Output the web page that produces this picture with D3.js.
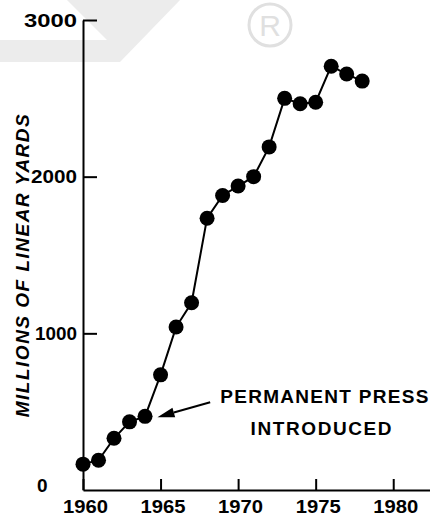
<!DOCTYPE html>
<html>
<head>
<meta charset="utf-8">
<script src="https://cdn.jsdelivr.net/npm/d3@7"></script>
<style>
  html, body { margin: 0; padding: 0; background: #fff; }
  svg { display: block; }
</style>
</head>
<body>
<svg id="chart" width="430" height="516"></svg>
<script>
// ---- data ----
const years = [1960, 1961, 1962, 1963, 1964, 1965, 1966, 1967, 1968, 1969,
               1970, 1971, 1972, 1973, 1974, 1975, 1976, 1977, 1978];
const yards = [165, 190, 330, 435, 470, 735, 1040, 1195, 1735, 1880,
               1940, 2000, 2190, 2500, 2465, 2475, 2705, 2655, 2610];
const xTickValues = [1960, 1965, 1970, 1975, 1980];
const yTickValues = [0, 1000, 2000, 3000];
const yTitle = "MILLIONS OF LINEAR YARDS";
const noteLines = ["PERMANENT PRESS", "INTRODUCED"];

const svg = d3.select("#chart");

// faint watermark at top
svg.append("polygon")
  .attr("points", "67,0 180,0 120,62 0,62 0,40 107,40")
  .attr("fill", "#ececec");
svg.append("circle").attr("cx", 270).attr("cy", 25).attr("r", 21)
  .attr("fill", "none").attr("stroke", "#e0e0e0").attr("stroke-width", 3);
svg.append("text").attr("x", 270).attr("y", 36).attr("text-anchor", "middle")
  .attr("font-family", "Liberation Sans, Arial, sans-serif").attr("font-size", 30)
  .attr("fill", "#e0e0e0").text("R");

const x = d3.scaleLinear().domain([1960, 1982.5]).range([83, 432]);
const y = d3.scaleLinear().domain([0, 3000]).range([490, 20]);

const numFont = "Liberation Sans, Arial, sans-serif";
const yLabelWidth = { 1000: 42, 2000: 46, 3000: 53 };

// y axis
const yAxis = svg.append("g")
  .attr("transform", `translate(${x(1960)},0)`)
  .call(d3.axisLeft(y).tickValues(yTickValues).tickSize(-14).tickSizeOuter(0)
        .tickPadding(6).tickFormat(d3.format("d")));
yAxis.select(".domain").attr("stroke", "#000").attr("stroke-width", 2);
yAxis.selectAll(".tick line").attr("stroke", "#000").attr("stroke-width", 2);
yAxis.selectAll(".tick").filter(d => d === 0).select("line").remove();
yAxis.selectAll(".tick text")
  .attr("font-family", numFont).attr("font-weight", "bold")
  .attr("font-size", 19).attr("fill", "#000")
  .attr("textLength", d => yLabelWidth[d] || null).attr("lengthAdjust", "spacingAndGlyphs");
yAxis.selectAll(".tick").filter(d => d === 0).select("text")
  .attr("text-anchor", "start").attr("x", -46).attr("dy", "0.1em");

// x axis
const xAxis = svg.append("g")
  .attr("transform", `translate(0,${y(0)})`)
  .call(d3.axisBottom(x).tickValues(xTickValues).tickSize(-11).tickSizeOuter(0)
        .tickPadding(10).tickFormat(d3.format("d")));
xAxis.select(".domain").attr("stroke", "#000").attr("stroke-width", 2);
xAxis.selectAll(".tick line").attr("stroke", "#000").attr("stroke-width", 2);
xAxis.selectAll(".tick text")
  .attr("font-family", numFont).attr("font-weight", "bold")
  .attr("font-size", 19).attr("fill", "#000").attr("dx", 2)
  .attr("textLength", 45).attr("lengthAdjust", "spacingAndGlyphs");

// y title
svg.append("text")
  .attr("transform", `translate(29,265) rotate(-90)`)
  .attr("text-anchor", "middle")
  .attr("font-family", "Liberation Sans, Arial, sans-serif")
  .attr("font-weight", "bold").attr("font-style", "italic")
  .attr("font-size", 19).attr("letter-spacing", 1.5)
  .attr("fill", "#000").text(yTitle);

// line + points
const pts = years.map((yr, i) => ({ yr, v: yards[i] }));
svg.append("path").datum(pts)
  .attr("fill", "none").attr("stroke", "#000").attr("stroke-width", 2)
  .attr("d", d3.line().x(d => x(d.yr)).y(d => y(d.v)));
svg.selectAll("circle.pt").data(pts).join("circle")
  .attr("class", "pt")
  .attr("cx", d => x(d.yr)).attr("cy", d => y(d.v)).attr("r", 7.5)
  .attr("fill", "#000");

// annotation arrow
const tail = [x(1968.2), y(560)];
const tip = [x(1964.8), y(465)];
const ang = Math.atan2(tip[1] - tail[1], tip[0] - tail[0]);
const headLen = 17, headW = 5;
const base = [tip[0] - headLen * Math.cos(ang), tip[1] - headLen * Math.sin(ang)];
svg.append("line")
  .attr("x1", tail[0]).attr("y1", tail[1]).attr("x2", base[0]).attr("y2", base[1])
  .attr("stroke", "#000").attr("stroke-width", 2);
svg.append("polygon")
  .attr("points", [
    tip,
    [base[0] + headW * Math.sin(ang), base[1] - headW * Math.cos(ang)],
    [base[0] - headW * Math.sin(ang), base[1] + headW * Math.cos(ang)]
  ].map(p => p.join(",")).join(" "))
  .attr("fill", "#000");

// annotation text
const note = svg.append("text")
  .attr("font-family", "Liberation Sans, Arial, sans-serif")
  .attr("font-weight", "bold").attr("font-size", 19)
  .attr("text-anchor", "middle").attr("fill", "#000");
note.append("tspan").attr("x", x(1975.6)).attr("y", y(555)).attr("letter-spacing", 1.3).text(noteLines[0]);
note.append("tspan").attr("x", x(1975.4)).attr("y", y(350)).attr("letter-spacing", 1.6).text(noteLines[1]);
</script>
</body>
</html>
